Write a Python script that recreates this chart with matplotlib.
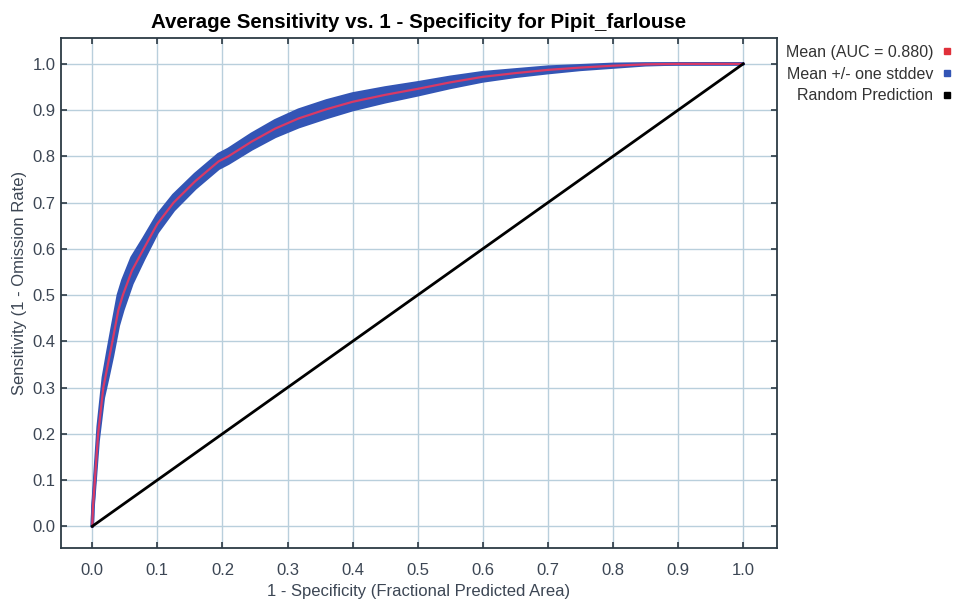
import numpy as np
import matplotlib
matplotlib.use("Agg")
import matplotlib.pyplot as plt
from matplotlib.lines import Line2D

plt.rcParams['font.family'] = ['Liberation Sans', 'DejaVu Sans']

# mean ROC curve
FPR = [0.0, 0.001, 0.004, 0.009, 0.017, 0.024, 0.031, 0.04, 0.047, 0.061,
       0.079, 0.1, 0.125, 0.158, 0.194, 0.209, 0.245, 0.281, 0.317, 0.36,
       0.4, 0.45, 0.5, 0.55, 0.6, 0.65, 0.7, 0.75, 0.8, 0.85, 0.9, 1.0]
MEAN_TPR = [0.0, 0.04, 0.1, 0.2, 0.3, 0.35, 0.4, 0.467, 0.5, 0.553,
            0.6, 0.654, 0.7, 0.746, 0.789, 0.8, 0.832, 0.86, 0.882, 0.902,
            0.918, 0.933, 0.946, 0.96, 0.972, 0.98, 0.987, 0.992, 0.996, 0.999, 1.0, 1.0]
STD_TPR = [0.0, 0.003, 0.008, 0.015, 0.022, 0.028, 0.032, 0.033, 0.032, 0.028,
           0.022, 0.018, 0.016, 0.015, 0.015, 0.015, 0.016, 0.017, 0.018, 0.018,
           0.017, 0.015, 0.013, 0.011, 0.009, 0.007, 0.006, 0.004, 0.003, 0.001, 0.0, 0.0]
RANDOM_X = [0.0, 1.0]
RANDOM_Y = [0.0, 1.0]

TICKS = np.round(np.arange(0, 1.01, 0.1), 1)
AUC = 0.880

RED = '#e0303a'
BLUE = '#3355b5'
TXT = '#3c4654'


def main():
    fig = plt.figure(figsize=(9.55, 5.99), dpi=100)
    ax = fig.add_axes([0.0639, 0.0851, 0.7497, 0.8515])

    fpr = np.array(FPR)
    mean = np.array(MEAN_TPR)
    std = np.array(STD_TPR)
    lo = np.clip(mean - std, 0, 1)
    hi = np.clip(mean + std, 0, 1)

    ax.fill_between(fpr, lo, hi, color=BLUE, lw=0, zorder=2)
    ax.plot(fpr, lo, color=BLUE, lw=2.5, solid_capstyle='round', zorder=2)
    ax.plot(fpr, hi, color=BLUE, lw=2.5, solid_capstyle='round', zorder=2)
    ax.plot(fpr, mean, color='#d93a66', lw=1.6, zorder=3)
    ax.plot(RANDOM_X, RANDOM_Y, color='black', lw=2, zorder=4)

    ax.set_xlim(-0.048, 1.052)
    ax.set_ylim(-0.047, 1.056)
    ax.set_xticks(TICKS)
    ax.set_yticks(TICKS)
    ax.set_xticklabels([f"{t:.1f}" for t in TICKS])
    ax.set_yticklabels([f"{t:.1f}" for t in TICKS])
    ax.grid(True, color='#b9cfdc', lw=1)
    ax.set_axisbelow(True)
    ax.tick_params(direction='in', length=4, width=1.2, color='#2c3a44',
                   top=True, right=True, labelsize=12, labelcolor=TXT)
    ax.tick_params(axis='x', pad=11)
    ax.tick_params(axis='y', pad=4)
    for s in ax.spines.values():
        s.set_color('#2c3a44')
        s.set_linewidth(1.3)

    ax.set_title("Average Sensitivity vs. 1 - Specificity for Pipit_farlouse",
                 fontsize=14.8, fontweight='bold', pad=7)
    ax.set_xlabel("1 - Specificity (Fractional Predicted Area)", fontsize=12,
                  color=TXT, labelpad=4)
    ax.set_ylabel("Sensitivity (1 - Omission Rate)", fontsize=12, color=TXT)
    ax.yaxis.set_label_coords(-0.047, 0.52)

    handles = [Line2D([], [], marker='s', ls='none', color=RED, markersize=4.3),
               Line2D([], [], marker='s', ls='none', color=BLUE, markersize=4.3),
               Line2D([], [], marker='s', ls='none', color='black', markersize=4.3)]
    labels = [f"Mean (AUC = {AUC:.3f})", "Mean +/- one stddev", "Random Prediction"]
    fig.legend(handles, labels, loc='upper right',
               bbox_to_anchor=(952 / 955, 1 - 45 / 599),
               frameon=False, markerfirst=False, fontsize=11.5,
               handlelength=0.6, handletextpad=0.57, labelspacing=0.42,
               borderpad=0, borderaxespad=0, labelcolor='#333333')

    fig.savefig("out.png", dpi=100)


if __name__ == "__main__":
    main()
